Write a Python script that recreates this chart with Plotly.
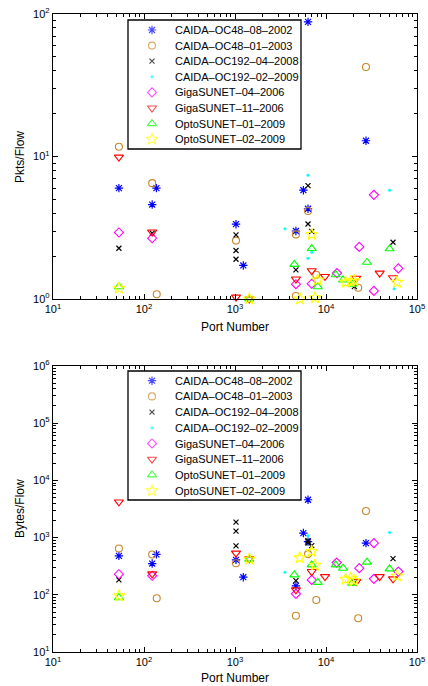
import plotly.graph_objects as go

# ---------------- data ----------------
series_names = ["CAIDA–OC48–08–2002", "CAIDA–OC48–01–2003", "CAIDA–OC192–04–2008",
                "CAIDA–OC192–02–2009", "GigaSUNET–04–2006", "GigaSUNET–11–2006",
                "OptoSUNET–01–2009", "OptoSUNET–02–2009"]

x_tickvals = [10, 100, 1000, 10000, 100000]
x_ticktext = ["10<sup>1</sup>", "10<sup>2</sup>", "10<sup>3</sup>", "10<sup>4</sup>", "10<sup>5</sup>"]
y1_tickvals = [1, 10, 100]
y1_ticktext = ["10<sup>0</sup>", "10<sup>1</sup>", "10<sup>2</sup>"]
y2_tickvals = [10, 100, 1000, 10000, 100000, 1000000]
y2_ticktext = ["10<sup>1</sup>", "10<sup>2</sup>", "10<sup>3</sup>", "10<sup>4</sup>",
               "10<sup>5</sup>", "10<sup>6</sup>"]
x_title = "Port Number"
y1_title = "Pkts/Flow"
y2_title = "Bytes/Flow"

# Top panel: Pkts/Flow
pk_oc48_0802_x = [53, 137, 123, 1026, 1234, 4672, 5640, 6346, 6346, 27500]
pk_oc48_0802_y = [6.0, 6.0, 4.6, 3.35, 1.72, 3.0, 5.8, 4.3, 88, 12.9]
pk_oc48_0103_x = [53, 123, 138, 1026, 4672, 6346, 4672, 7820, 22600, 27500]
pk_oc48_0103_y = [11.7, 6.5, 1.08, 2.57, 2.84, 4.15, 1.05, 1.48, 1.2, 42.5]
pk_oc192_0408_x = [53, 123, 1026, 1026, 1026, 6346, 6346, 6970, 4672, 54500, 20500]
pk_oc192_0408_y = [2.27, 2.9, 2.82, 2.19, 1.9, 6.25, 3.36, 2.98, 1.6, 2.5, 1.22]
pk_oc192_0209_x = [6346, 3540, 6346, 6970, 50000, 56000]
pk_oc192_0209_y = [7.4, 3.11, 1.93, 2.13, 5.8, 1.18]
pk_giga_0406_x = [53, 123, 33600, 23200, 62400, 13200, 33600, 4672, 6970]
pk_giga_0406_y = [2.93, 2.67, 5.38, 2.32, 1.64, 1.52, 1.14, 1.27, 1.28]
pk_giga_1106_x = [53, 123, 1026, 1434, 4672, 6970, 9750, 21500, 38900, 54500]
pk_giga_1106_y = [9.9, 2.95, 1.03, 1.0, 1.38, 1.58, 1.44, 1.4, 1.52, 1.41]
pk_opto_0109_x = [53, 1434, 4490, 6970, 8110, 12800, 15400, 28200, 50000, 19400]
pk_opto_0109_y = [1.22, 1.0, 1.75, 2.26, 1.22, 1.48, 1.36, 1.81, 2.25, 1.27]
pk_opto_0209_x = [53, 1434, 6970, 5180, 7570, 8110, 16400, 18700, 20400, 60200]
pk_opto_0209_y = [1.19, 1.0, 2.84, 1.0, 1.02, 1.36, 1.31, 1.33, 1.35, 1.31]

# Bottom panel: Bytes/Flow
by_oc48_0802_x = [53, 137, 123, 1026, 1234, 4672, 5640, 6346, 6346, 27500]
by_oc48_0802_y = [480, 508, 352, 408, 203, 143, 1200, 850, 4590, 800]
by_oc48_0103_x = [53, 123, 138, 1026, 4672, 6346, 7820, 22600, 27500]
by_oc48_0103_y = [644, 506, 87, 357, 43, 515, 81, 39, 2910]
by_oc192_0408_x = [53, 1026, 1026, 1026, 4672, 6346, 6346, 6970, 20500, 54500]
by_oc192_0408_y = [182, 1870, 1300, 718, 177, 880, 800, 725, 160, 430]
by_oc192_0209_x = [6346, 3540, 50000]
by_oc192_0209_y = [1080, 247, 1230]
by_giga_0406_x = [53, 123, 4672, 6970, 13100, 23200, 33600, 33600, 62400]
by_giga_0406_y = [229, 215, 104, 182, 366, 292, 800, 190, 255]
by_giga_1106_x = [53, 123, 1026, 1434, 4672, 6970, 9750, 21500, 38900, 54500]
by_giga_1106_y = [4200, 232, 536, 425, 122, 255, 208, 170, 208, 190]
by_opto_0109_x = [53, 1434, 4490, 6970, 8110, 12800, 15400, 19400, 28200, 50000]
by_opto_0109_y = [89, 420, 223, 334, 165, 334, 292, 160, 372, 284]
by_opto_0209_x = [53, 1434, 5140, 6970, 7570, 16400, 18700, 20400, 60200]
by_opto_0209_y = [96, 420, 443, 570, 330, 187, 195, 177, 214]

top_data = [(pk_oc48_0802_x, pk_oc48_0802_y), (pk_oc48_0103_x, pk_oc48_0103_y),
            (pk_oc192_0408_x, pk_oc192_0408_y), (pk_oc192_0209_x, pk_oc192_0209_y),
            (pk_giga_0406_x, pk_giga_0406_y), (pk_giga_1106_x, pk_giga_1106_y),
            (pk_opto_0109_x, pk_opto_0109_y), (pk_opto_0209_x, pk_opto_0209_y)]
bot_data = [(by_oc48_0802_x, by_oc48_0802_y), (by_oc48_0103_x, by_oc48_0103_y),
            (by_oc192_0408_x, by_oc192_0408_y), (by_oc192_0209_x, by_oc192_0209_y),
            (by_giga_0406_x, by_giga_0406_y), (by_giga_1106_x, by_giga_1106_y),
            (by_opto_0109_x, by_opto_0109_y), (by_opto_0209_x, by_opto_0209_y)]

# ---------------- styles ----------------
symbols = ["asterisk-open", "circle-open", "x-thin-open", "circle",
           "diamond-open", "triangle-down-open", "triangle-up-open", "star-open"]
colors = ["#0000FF", "#C8862A", "#000000", "#00FFFF",
          "#FF00FF", "#FF0000", "#00FF00", "#FFFF00"]
sizes = [7, 7, 5, 3, 7, 8, 8, 9]
line_w = [1.2, 1.1, 1.2, 0, 1.1, 1.1, 1.1, 1.1]

FONT = "Liberation Sans, Arial, Helvetica, sans-serif"
W, H = 428, 686
L, R, T, B = 53, 11, 14, 34
plot_w = W - L - R
plot_h = H - T - B


def px2paper(px):
    return (px - L) / plot_w


def py2paper(py):
    return (H - B - py) / plot_h


def minor_vals(lo_exp, hi_exp):
    return [m * 10 ** k for k in range(lo_exp, hi_exp) for m in range(2, 10)]


fig = go.Figure()
for i, name in enumerate(series_names):
    marker = dict(symbol=symbols[i], size=sizes[i], color=colors[i],
                  line=dict(color=colors[i], width=line_w[i]))
    x, y = top_data[i]
    fig.add_trace(go.Scatter(x=x, y=y, mode="markers", name=name, marker=marker,
                             xaxis="x", yaxis="y", showlegend=False, cliponaxis=False))
    x, y = bot_data[i]
    fig.add_trace(go.Scatter(x=x, y=y, mode="markers", name=name, marker=marker,
                             xaxis="x2", yaxis="y2", showlegend=False, cliponaxis=False))

# ---------------- custom legends (MATLAB-like compact rows) ----------------
LEG_X = (128, 301)           # legend box, pixels
LEG_SYM_X, LEG_TXT_X = 152, 173
legends = [  # (box top, box bottom, first row centre, row step) in pixels
    ("x3", "y3", 20, 149, 30.0, 15.6),
    ("x4", "y4", 371, 500, 380.7, 15.7),
]
annotations = []
shapes = []
for xa, ya, top, bot, r0, dr in legends:
    n = len(series_names)
    fig.add_trace(go.Scatter(
        x=[LEG_SYM_X] * n, y=list(range(n)), mode="markers", showlegend=False,
        hoverinfo="skip", xaxis=xa, yaxis=ya, cliponaxis=False,
        marker=dict(symbol=symbols, size=sizes, color=colors,
                    line=dict(color=colors, width=line_w))))
    for i, name in enumerate(series_names):
        annotations.append(dict(x=LEG_TXT_X, y=i, xref=xa, yref=ya, text=name,
                                showarrow=False, xanchor="left", yanchor="middle",
                                font=dict(size=11, family=FONT, color="black")))
    shapes.append(dict(type="rect", xref=xa + " domain", yref=ya + " domain",
                       x0=0, x1=1, y0=0, y1=1, line=dict(color="black", width=1.3),
                       fillcolor="white", layer="below"))
    ax_num = xa[1:]
    fig.layout["xaxis" + ax_num] = dict(domain=[px2paper(LEG_X[0]), px2paper(LEG_X[1])],
                                        range=list(LEG_X), visible=False, anchor=ya,
                                        fixedrange=True)
    fig.layout["yaxis" + ax_num] = dict(domain=[py2paper(bot), py2paper(top)],
                                        range=[(bot - r0) / dr, (top - r0) / dr],
                                        visible=False, anchor=xa, fixedrange=True)

# axis titles (placed like MATLAB's)
title_font = dict(size=12, family=FONT, color="black")
for ty in (327, 678):
    annotations.append(dict(x=px2paper(235), y=py2paper(ty), xref="paper", yref="paper",
                            text=x_title, showarrow=False, xanchor="center",
                            yanchor="middle", font=title_font))
for txt, ty in ((y1_title, 157), (y2_title, 509)):
    annotations.append(dict(x=px2paper(20), y=py2paper(ty), xref="paper", yref="paper",
                            text=txt, showarrow=False, xanchor="center", yanchor="middle",
                            textangle=-90, font=title_font))

axis_common = dict(type="log", showline=True, linecolor="black", linewidth=1.3, mirror="ticks",
                   ticks="inside", ticklen=5, tickwidth=1, tickcolor="black",
                   showgrid=False, zeroline=False, tickmode="array",
                   tickfont=dict(size=11, color="black", family=FONT),
                   automargin=False, ticklabeloverflow="allow")


def minor(lo, hi):
    return dict(ticks="inside", ticklen=3, tickwidth=0.8, tickcolor="black",
                showgrid=False, tickmode="array", tickvals=minor_vals(lo, hi))


xcommon = dict(axis_common, range=[1, 5], domain=[0, 1],
               tickvals=x_tickvals, ticktext=x_ticktext, minor=minor(1, 5))

fig.update_layout(
    width=W, height=H,
    margin=dict(l=L, r=R, t=T, b=B),
    paper_bgcolor="white", plot_bgcolor="rgba(0,0,0,0)",
    font=dict(family=FONT, color="black", size=11),
    xaxis=dict(xcommon, anchor="y"),
    yaxis=dict(axis_common, range=[0, 2], domain=[py2paper(299), py2paper(14)], anchor="x",
               tickvals=y1_tickvals, ticktext=y1_ticktext, minor=minor(0, 2)),
    xaxis2=dict(xcommon, anchor="y2"),
    yaxis2=dict(axis_common, range=[1, 6], domain=[0, py2paper(366)], anchor="x2",
                tickvals=y2_tickvals, ticktext=y2_ticktext, minor=minor(1, 6)),
    annotations=annotations,
    shapes=shapes,
    showlegend=False,
)

fig.write_html("out.html", config={"displayModeBar": False},
               post_script="document.body.style.margin='0';"
                           "document.body.style.overflow='hidden';")
